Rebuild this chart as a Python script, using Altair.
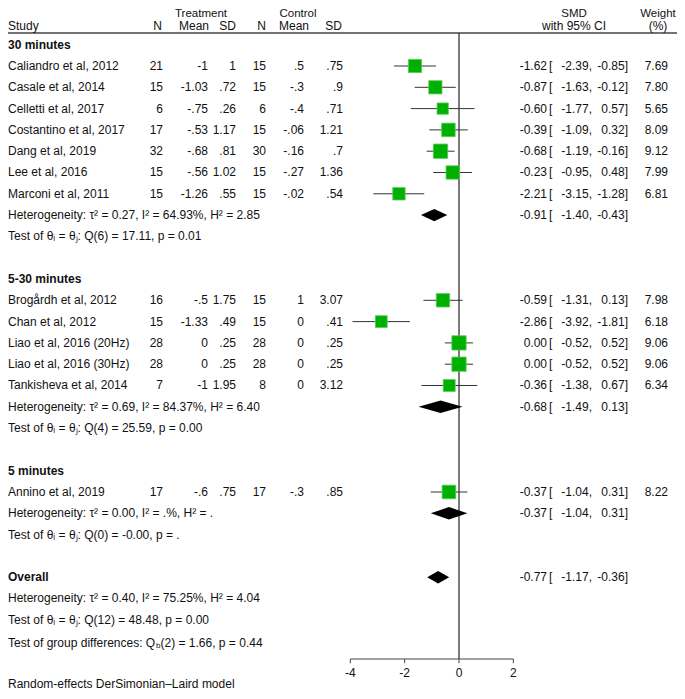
import altair as alt
import pandas as pd

# ---------------- data ----------------
group_names = ["30 minutes", "5-30 minutes", "5 minutes"]
studies = ["Caliandro et al, 2012", "Casale et al, 2014", "Celletti et al, 2017",
           "Costantino et al, 2017", "Dang et al, 2019", "Lee et al, 2016",
           "Marconi et al, 2011", "Brogårdh et al, 2012", "Chan et al, 2012",
           "Liao et al, 2016 (20Hz)", "Liao et al, 2016 (30Hz)",
           "Tankisheva et al, 2014", "Annino et al, 2019"]
study_group = [0, 0, 0, 0, 0, 0, 0, 1, 1, 1, 1, 1, 2]
t_n = [21, 15, 6, 17, 32, 15, 15, 16, 15, 28, 28, 7, 17]
t_mean = [-1, -1.03, -.75, -.53, -.68, -.56, -1.26, -.5, -1.33, 0, 0, -1, -.6]
t_sd = [1, .72, .26, 1.17, .81, 1.02, .55, 1.75, .49, .25, .25, 1.95, .75]
c_n = [15, 15, 6, 15, 30, 15, 15, 15, 15, 28, 28, 8, 17]
c_mean = [.5, -.3, -.4, -.06, -.16, -.27, -.02, 1, 0, 0, 0, 0, -.3]
c_sd = [.75, .9, .71, 1.21, .7, 1.36, .54, 3.07, .41, .25, .25, 3.12, .85]
smd = [-1.62, -0.87, -0.60, -0.39, -0.68, -0.23, -2.21, -0.59, -2.86, 0.00, 0.00, -0.36, -0.37]
ci_lo = [-2.39, -1.63, -1.77, -1.09, -1.19, -0.95, -3.15, -1.31, -3.92, -0.52, -0.52, -1.38, -1.04]
ci_hi = [-0.85, -0.12, 0.57, 0.32, -0.16, 0.48, -1.28, 0.13, -1.81, 0.52, 0.52, 0.67, 0.31]
weight = [7.69, 7.80, 5.65, 8.09, 9.12, 7.99, 6.81, 7.98, 6.18, 9.06, 9.06, 6.34, 8.22]

# subgroup summaries (3 subgroups) + overall (last)
sum_smd = [-0.91, -0.68, -0.37, -0.77]
sum_lo = [-1.40, -1.49, -1.04, -1.17]
sum_hi = [-0.43, 0.13, 0.31, -0.36]
het_tau2 = ["0.27", "0.69", "0.00", "0.40"]
het_i2 = ["64.93%", "84.37%", ".%", "75.25%"]
het_h2 = ["2.85", "6.40", ".", "4.04"]
test_df = ["6", "4", "0", "12"]
test_q = ["17.11", "25.59", "-0.00", "48.48"]
test_p = ["0.01", "0.00", ".", "0.00"]
qb_df, qb_val, qb_p = "2", "1.66", "0.44"
axis_ticks = [-4, -2, 0, 2]

# ---------------- layout ----------------
W, H = 669, 683
FONT = "Liberation Sans"
TXT = "#111111"
GREEN = "#00b000"

def stata(v):
    s = f"{v:g}"
    if s.startswith("0."):
        s = s[1:]
    elif s.startswith("-0."):
        s = "-" + s[2:]
    return s

study_r, head_r, het_r, test_r = [], [], [], []
r = -1
for g in range(3):
    head_r.append(r); r += 1
    for sg in study_group:
        if sg == g:
            study_r.append(r); r += 1
    het_r.append(r); r += 1
    test_r.append(r); r += 2
overall_r = r
head_r.append(overall_r)
het_r.append(overall_r + 1)
test_r.append(overall_r + 2)
summary_r = het_r[:3] + [overall_r]
qb_r = overall_r + 3.1

xs = alt.Scale(domain=[-16.599, 8.023], nice=False, zero=False)
ys = alt.Scale(domain=[-2.723, 29.343], reverse=True, nice=False, zero=False)
Y = lambda f: alt.Y(f, type="quantitative", scale=ys, axis=None)
X = lambda f: alt.X(f, type="quantitative", scale=xs, axis=None)

sdf = pd.DataFrame({
    "r": study_r, "study": studies,
    "tn": [str(v) for v in t_n], "tm": [stata(v) for v in t_mean], "ts": [stata(v) for v in t_sd],
    "cn": [str(v) for v in c_n], "cm": [stata(v) for v in c_mean], "cs": [stata(v) for v in c_sd],
    "smd": smd, "lo": ci_lo, "hi": ci_hi, "w": weight,
    "wt": [f"{v:.2f}" for v in weight],
})

est_df = pd.DataFrame({
    "r": study_r + summary_r,
    "e": [f"{v:.2f}" for v in smd + sum_smd],
    "b": ["["] * (len(smd) + 4),
    "l": [f"{v:.2f}," for v in ci_lo + sum_lo],
    "h": [f"{v:.2f}]" for v in ci_hi + sum_hi],
})

left_df = pd.DataFrame({
    "r": study_r + het_r + test_r,
    "t": studies
         + [f"Heterogeneity: τ² = {a}, I² = {b}, H² = {c}" for a, b, c in zip(het_tau2, het_i2, het_h2)]
         + [f"Test of θᵢ = θⱼ: Q({d}) = {q}, p = {p}" for d, q, p in zip(test_df, test_q, test_p)],
})
bold_df = pd.DataFrame({"r": head_r, "t": group_names + ["Overall"]})

def txt(df, field, px, align="right", bold=False, size=12, baseline="middle", dy=0):
    return alt.Chart(df).mark_text(
        align=align, baseline=baseline, font=FONT, fontSize=size, dy=dy,
        fontWeight="bold" if bold else "normal", color=TXT,
    ).encode(x=alt.value(px), y=Y("r"), text=alt.Text(f"{field}:N"))

def one(label, r, px, align="center", **kw):
    return txt(pd.DataFrame({"r": [r], "t": [label]}), "t", px, align=align, **kw)

R_TOP, R_SUB = -2.70, -1.90   # top header row sits at the very top edge
layers = [
    # header line
    alt.Chart(pd.DataFrame({"r": [-1.55]})).mark_rule(color="#444444", strokeWidth=1.5)
        .encode(x=alt.value(0), x2=alt.value(W), y=Y("r")),
    # zero line
    alt.Chart(pd.DataFrame({"x": [0], "r": [-1.55], "r2": [27.84]})).mark_rule(color="#222222", strokeWidth=1.2)
        .encode(x=X("x"), y=Y("r"), y2="r2:Q"),
    # axis line and ticks
    alt.Chart(pd.DataFrame({"a": [min(axis_ticks)], "b": [max(axis_ticks)], "r": [27.84]}))
        .mark_rule(color="#444444", strokeWidth=1).encode(x=X("a"), x2="b:Q", y=Y("r")),
    alt.Chart(pd.DataFrame({"x": axis_ticks, "r": [27.84] * 4, "r2": [28.04] * 4}))
        .mark_rule(color="#444444", strokeWidth=1).encode(x=X("x"), y=Y("r"), y2="r2:Q"),
    alt.Chart(pd.DataFrame({"x": axis_ticks, "r": [28.5] * 4, "t": [str(v) for v in axis_ticks]}))
        .mark_text(font=FONT, fontSize=12, color=TXT, baseline="middle")
        .encode(x=X("x"), y=Y("r"), text="t:N"),
    # CI whiskers
    alt.Chart(sdf).mark_rule(color="#333333", strokeWidth=1).encode(x=X("lo"), x2="hi:Q", y=Y("r")),
    # squares
    alt.Chart(sdf).mark_point(shape="square", filled=True, color=GREEN, stroke="#55cc55",
                              strokeWidth=0.8, opacity=1)
        .encode(x=X("smd"), y=Y("r"),
                size=alt.Size("w:Q", scale=alt.Scale(domain=[0, 10], range=[0, 225]), legend=None)),
]

# diamonds
h = 6.2 / 21.3
dia = []
for k in range(4):
    rr = summary_r[k]
    dia += [dict(id=k, x=sum_lo[k], y=rr, y2=rr),
            dict(id=k, x=sum_smd[k], y=rr - h, y2=rr + h),
            dict(id=k, x=sum_hi[k], y=rr, y2=rr)]
layers.append(alt.Chart(pd.DataFrame(dia)).mark_area(color="black", opacity=1)
              .encode(x=X("x"), y=Y("y"), y2="y2:Q", detail="id:N"))

# headers
HS = 11.5
layers += [
    one("Treatment", R_TOP, 193, baseline="top", size=HS), one("Control", R_TOP, 290, baseline="top", size=HS),
    one("SMD", R_TOP, 566, baseline="top", size=HS), one("Weight", R_TOP, 650, baseline="top", size=HS),
    one("Study", R_SUB, 0, align="left"),
    one("N", R_SUB, 154, align="right"), one("Mean", R_SUB, 201, align="right"),
    one("SD", R_SUB, 228, align="right"), one("N", R_SUB, 258, align="right"),
    one("Mean", R_SUB, 301, align="right"), one("SD", R_SUB, 334, align="right"),
    one("with 95% CI", R_SUB, 566), one("(%)", R_SUB, 650),
]

# left text
layers += [
    txt(left_df, "t", 0, align="left"),
    txt(bold_df, "t", 0, align="left", bold=True),
    one("Test of group differences: Q", qb_r, 0, align="left"),
    one("b", qb_r, 148, align="left", size=8, dy=3),
    one(f"({qb_df}) = {qb_val}, p = {qb_p}", qb_r, 152.5, align="left"),
    one("Random-effects DerSimonian–Laird model", 29.2, 0, align="left", baseline="alphabetic"),
]

# numeric columns
layers += [
    txt(sdf, "tn", 155), txt(sdf, "tm", 200), txt(sdf, "ts", 228),
    txt(sdf, "cn", 258), txt(sdf, "cm", 296), txt(sdf, "cs", 335),
    txt(est_df, "e", 539), txt(est_df, "b", 541, align="left"),
    txt(est_df, "l", 584), txt(est_df, "h", 620),
    txt(sdf, "wt", 660),
]

chart = alt.layer(*layers).properties(
    width=W, height=H, padding=0, autosize="none"
).configure_view(stroke=None)

chart.save("out.html", embed_options={"renderer": "svg", "actions": False})
